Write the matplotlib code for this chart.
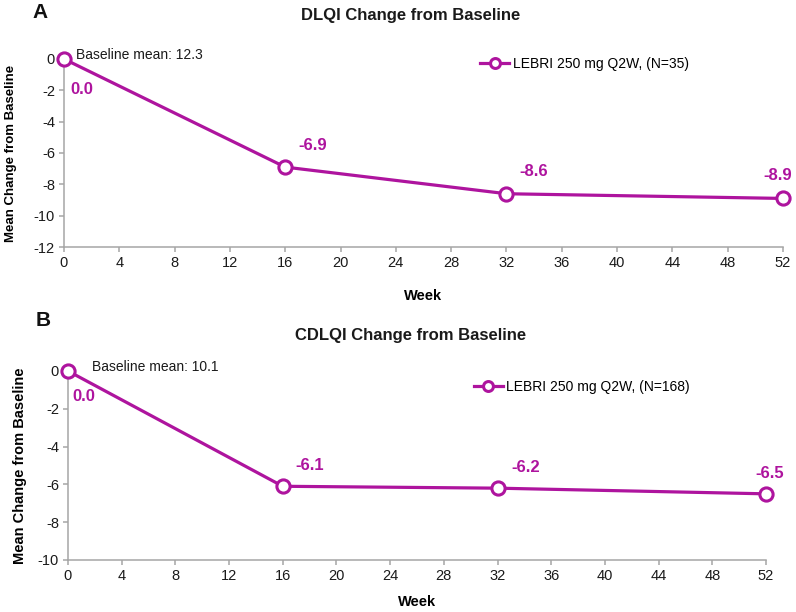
import matplotlib
matplotlib.use('Agg')
import matplotlib.pyplot as plt

plt.rcParams['font.family'] = ['Liberation Sans', 'DejaVu Sans']
plt.rcParams['axes.unicode_minus'] = False

weeks = [0, 16, 32, 52]
dlqi = [0.0, -6.9, -8.6, -8.9]
cdlqi = [0.0, -6.1, -6.2, -6.5]
xticks = list(range(0, 53, 4))

purple = '#AE149E'
gray = '#A6A6A6'

fig = plt.figure(figsize=(7.96, 6.12), dpi=100)

panels = [
    dict(rect=[0.0804, 0.5964, 0.9033, 0.3072], y=dlqi, ylim=-12,
         title='DLQI Change from Baseline', title_y=0.974, letter='A', letter_xy=(0.050, 0.979),
         legend='LEBRI 250 mg Q2W, (N=35)', leg_xy=(0.603, 0.8954),
         baseline='Baseline mean: 12.3', base_off=(8.6, 2.9),
         offs=[(4.3, -22.3, 'left'), (9.4, 15.8, 'left'), (9.4, 15.8, 'left'), (-3.6, 16.6, 'center')],
         xlab_y=-0.261, ylab_x=-0.074, ylab_size=9.5),
    dict(rect=[0.0854, 0.085, 0.8769, 0.3088], y=cdlqi, ylim=-10,
         title='CDLQI Change from Baseline', title_y=0.451, letter='B', letter_xy=(0.054, 0.477),
         legend='LEBRI 250 mg Q2W, (N=168)', leg_xy=(0.595, 0.3676),
         baseline='Baseline mean: 10.1', base_off=(17.3, 2.9),
         offs=[(2.9, -18.7, 'left'), (9.4, 15.1, 'left'), (10.1, 15.1, 'left'), (2.9, 14.4, 'center')],
         xlab_y=-0.222, ylab_x=-0.069, ylab_size=10.5),
]

for p in panels:
    ax = fig.add_axes(p['rect'])
    ax.plot(weeks, p['y'], color=purple, lw=2.3, marker='o', ms=9.5,
            mfc='white', mec=purple, mew=2.2, clip_on=False, zorder=5,
            label=p['legend'])
    ax.set_xlim(0, 52)
    ax.set_ylim(p['ylim'], 0)
    ax.set_xticks(xticks)
    ax.set_yticks(range(p['ylim'], 1, 2))
    for s in ['top', 'right']:
        ax.spines[s].set_visible(False)
    for s in ['left', 'bottom']:
        ax.spines[s].set_color(gray)
        ax.spines[s].set_linewidth(1.1)
    ax.tick_params(colors=gray, labelcolor='#1a1a1a', labelsize=10.5,
                   length=3.5, width=1.1, pad=3)

    ax.set_xlabel('Week', fontsize=10.5, fontweight='bold')
    ax.xaxis.label.set_va('center')
    ax.xaxis.set_label_coords(0.5, p['xlab_y'])
    ax.set_ylabel('Mean Change from Baseline', fontsize=p['ylab_size'], fontweight='bold')
    ax.yaxis.label.set_va('center')
    ax.yaxis.set_label_coords(p['ylab_x'], 0.5)

    for x, v, (dx, dy, ha) in zip(weeks, p['y'], p['offs']):
        ax.annotate(f'{v:.1f}', (x, v), xytext=(dx, dy), textcoords='offset points',
                    ha=ha, va='center', color=purple, fontsize=12, fontweight='bold')
    ax.annotate(p['baseline'], (weeks[0], p['y'][0]), xytext=p['base_off'],
                textcoords='offset points', ha='left', va='center', fontsize=10,
                color='#1a1a1a')

    fig.text(0.516, p['title_y'], p['title'], ha='center', va='center',
             fontsize=12, fontweight='bold', color='#1a1a1a')
    fig.text(p['letter_xy'][0], p['letter_xy'][1], p['letter'], ha='center', va='center',
             fontsize=15, fontweight='bold', color='#111111')

    ax.legend(loc='center left', bbox_to_anchor=p['leg_xy'], bbox_transform=fig.transFigure,
              frameon=False, borderpad=0, borderaxespad=0, fontsize=10,
              handlelength=2.1, handletextpad=0.25, markerscale=0.75)

fig.savefig('out.png', dpi=100)
